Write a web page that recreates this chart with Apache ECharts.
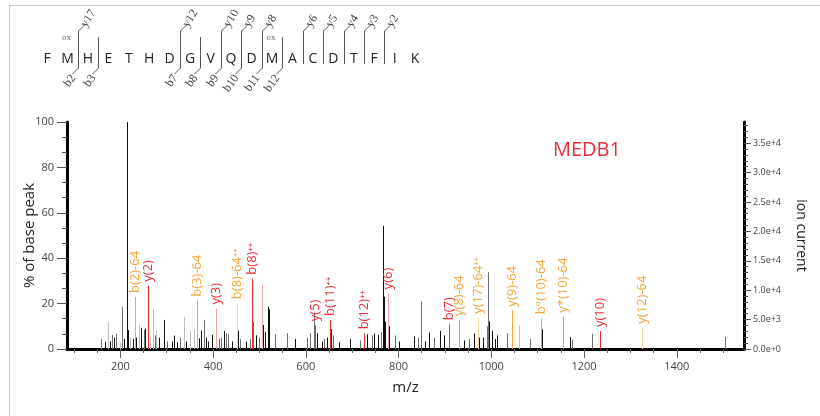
<!DOCTYPE html>
<html>
<head>
<meta charset="utf-8">
<script src="https://cdn.jsdelivr.net/npm/echarts@6/dist/echarts.min.js"></script>
<style>
  html, body { margin: 0; padding: 0; background: #fff; }
  #chart { width: 820px; height: 416px; }
</style>
</head>
<body>
<div id="chart"></div>
<script>
// peptide sequence and fragment cleavage marks (index = residue before the cut)
var sequence = ['F','M','H','E','T','H','D','G','V','Q','D','M','A','C','D','T','F','I','K'];
var oxidized = [1, 11];
var yIons = [[1,'y17'],[6,'y12'],[8,'y10'],[9,'y9'],[10,'y8'],[12,'y6'],[13,'y5'],[14,'y4'],[15,'y3'],[16,'y2']];
var bIons = [[1,'b2'],[2,'b3'],[6,'b7'],[7,'b8'],[8,'b9'],[9,'b10'],[10,'b11'],[11,'b12']];

// axis ticks
var xTicks = [100,150,200,250,300,350,400,450,500,550,600,650,700,750,800,850,900,950,1000,1050,1100,1150,1200,1250,1300,1350,1400,1450,1500];
var xLabels = [200,400,600,800,1000,1200,1400];
var ionLabels = [0,5000,10000,15000,20000,25000,30000,35000];
var ionTicks = [];
for (var k = 0; k <= 38000; k += 1000) ionTicks.push(k);

// unlabelled peaks [m/z, % of base peak]
var blackPeaks = [[168,3.2],[178,3.4],[187,5],[209,4.4],[214,100],[216,8.4],[226.5,4.5],[234,5],[244.5,9.3],[254,9],
  [282.6,5],[294.8,12.8],[311,3.3],[314.7,5.9],[322,3],[341.4,3.3],[370,4.7],[374,8],[384.6,5],[390,3.3],[397.6,6.3],
  [424,8],[440.7,3.3],[454,8],[470.7,3.3],[492,6],[507.5,10.6],[511,7.5],[517.4,18.6],[521,17.5],[577,4.4],[624,7],
  [634.7,3.3],[645.5,5],[654.7,8.7],[672.6,3],[695.7,4.4],[731.7,6.5],[748,6.8],[756.7,6.2],[766,54.3],[768,23],
  [771,12],[779.7,10],[800,3.3],[834,5.5],[857,3.3],[866,7.3],[889.7,8],[899,6],[931,4.4],[942,3.8],[963,6.8],[974,5],
  [981.4,5],[995.8,12.2],[1001,8],[1008,4.4],[1012,6],[1045.5,12],[1108.8,8.7],[1155,7.5],[1169.8,5.3]];
var greyPeaks = [[159,4.4],[183,6.2],[191,6.7],[203.6,18.6],[250,8.4],[274,6],[300.6,3.3],[329,5],[379.5,12.8],
  [411.9,4.4],[417.7,5],[427.8,7],[432,6.5],[457.9,4.4],[480,4.4],[487,12],[498,5],[534,6.5],[559,7],[602,5],[609.5,7],
  [617,16],[640,4.4],[657.6,6],[717,3.8],[743.8,6],[761.8,7.5],[792.7,6],[843,5],[848.5,21],[876.7,5],[953,4.4],
  [990,10],[993.7,33.8],[1033,7],[1083.6,4.4],[1173,4],[1217.8,6.7],[1504,5.3]];
var lightPeaks = [[173.5,12],[200,3],[221.5,5],[239.5,10.5],[264.5,5],[269.5,17.8],[277.6,8],[336.4,14.2],[350.9,8],[357.9,8.5]];
var pinkPeaks = [[506,28.8],[1060.6,10.3]];

// matched fragment ions [m/z, %, label]
var redIons = [[260,27.9,'y(2)'],[484,31,'b(8)⁺⁺'],[620,10.5,'y(5)'],[652.6,12.8,'b(11)⁺⁺'],[726.5,6.9,'b(12)⁺⁺'],[909,10.9,'b(7)'],[1234.5,7.9,'y(10)']];
var redLightIons = [[406,17.8,'y(3)'],[777,24.5,'y(6)']];
var orangeIons = [[231,22.9,'b(2)-64'],[365,21.3,'b(3)-64'],[930.6,12.8,'y(8)-64'],[1045.5,16.9,'y(9)-64'],[1108,13.5,'b°(10)-64'],[1154.7,14.2,'y*(10)-64']];
var orangeLightIons = [[452,20.2,'b(8)-64⁺⁺'],[971,13.8,'y(17)-64⁺⁺'],[1325,9.4,'y(12)-64']];

var RED = '#ee2d35', ORANGE = '#f8a33a';

function sticks(data, color, labelColor) {
    return {
        type: 'custom',
        data: data.map(function (d) { return [d[0], d[1]]; }),
        encode: { x: 0, y: 1 },
        renderItem: function (params, api) {
            var top = api.coord([api.value(0), api.value(1)]);
            var base = api.coord([api.value(0), 0]);
            var x = Math.round(top[0]) + 0.5;
            var kids = [{
                type: 'line',
                shape: { x1: x, y1: top[1], x2: x, y2: base[1] },
                style: { stroke: color, lineWidth: 1 }
            }];
            if (labelColor) {
                kids.push({
                    type: 'text', x: x, y: top[1] - 4, rotation: Math.PI / 2, z2: 10,
                    style: { text: data[params.dataIndex][2], fill: labelColor, font: '13px "Open Sans", sans-serif', align: 'left', verticalAlign: 'middle' }
                });
            }
            return { type: 'group', children: kids };
        }
    };
}

// sequence header drawn with graphic elements
var seqX0 = 47, seqStep = 20.45, seqY = 59;
var graphics = [
    { type: 'line', shape: { x1: 9, y1: 5.5, x2: 820, y2: 5.5 }, style: { stroke: '#c8c8c8', lineWidth: 1 } },
    { type: 'line', shape: { x1: 9.5, y1: 5, x2: 9.5, y2: 416 }, style: { stroke: '#c8c8c8', lineWidth: 1 } }
];
sequence.forEach(function (aa, i) {
    graphics.push({ type: 'text', x: seqX0 + i * seqStep, y: seqY,
        style: { text: aa, fill: '#222', font: '14px "Open Sans", sans-serif', align: 'center', verticalAlign: 'middle' } });
});
oxidized.forEach(function (i) {
    graphics.push({ type: 'text', x: seqX0 + i * seqStep - 1, y: 38,
        style: { text: 'ox', fill: '#666', font: '9px "Liberation Serif", serif', align: 'center', verticalAlign: 'middle' } });
});
var cuts = {};
yIons.forEach(function (c) { cuts[c[0]] = cuts[c[0]] || {}; cuts[c[0]].y = c[1]; });
bIons.forEach(function (c) { cuts[c[0]] = cuts[c[0]] || {}; cuts[c[0]].b = c[1]; });
Object.keys(cuts).forEach(function (key) {
    var c = cuts[key];
    var mx = Math.round(seqX0 + (+key + 0.5) * seqStep) + 0.5;
    var y1 = c.y ? 31 : 37, y2 = c.b ? 68 : 64;
    graphics.push({ type: 'line', shape: { x1: mx, y1: y1, x2: mx, y2: y2 }, style: { stroke: '#555', lineWidth: 1 } });
    if (c.y) {
        graphics.push({ type: 'line', shape: { x1: mx, y1: 31, x2: mx + 6, y2: 25 }, style: { stroke: '#555', lineWidth: 1 } });
        graphics.push({ type: 'text', x: mx + 5, y: 26, rotation: 1.0,
            style: { text: c.y, fill: '#444', font: '12px "Liberation Serif", serif', align: 'left', verticalAlign: 'middle' } });
    }
    if (c.b) {
        graphics.push({ type: 'line', shape: { x1: mx, y1: 68, x2: mx - 6, y2: 74 }, style: { stroke: '#555', lineWidth: 1 } });
        graphics.push({ type: 'text', x: mx - 5, y: 76, rotation: 0.95,
            style: { text: c.b, fill: '#444', font: '12px "Liberation Serif", serif', align: 'right', verticalAlign: 'middle' } });
    }
});

var chart = echarts.init(document.getElementById('chart'));
var axisLine = { show: true, lineStyle: { color: '#000', width: 3 } };
var option = {
    animation: false,
    title: { text: 'MEDB1', left: 548, top: 135, textStyle: { color: RED, fontSize: 20, fontWeight: 'normal', fontFamily: 'Open Sans' } },
    grid: { left: 67, right: 76, top: 122, bottom: 67 },
    graphic: graphics,
    xAxis: [{
        type: 'value', min: 85, max: 1545, position: 'bottom',
        axisLine: axisLine,
        axisTick: { customValues: xTicks, length: 4, lineStyle: { color: '#666' } },
        axisLabel: { customValues: xLabels, color: '#444', fontSize: 11, margin: 12, fontFamily: 'Open Sans',
            formatter: function (v) { return String(v); } },
        splitLine: { show: false },
        name: 'm/z', nameLocation: 'middle', nameGap: 31,
        nameTextStyle: { color: '#222', fontSize: 15, fontFamily: 'Open Sans' }
    }, {
        type: 'value', min: 85, max: 1545, position: 'bottom',
        axisLine: { show: false },
        axisTick: { customValues: xLabels, length: 9, lineStyle: { color: '#666' } },
        axisLabel: { show: false }, splitLine: { show: false }
    }],
    yAxis: [{
        type: 'value', min: 0, max: 100, interval: 20, position: 'left',
        axisLine: axisLine,
        axisTick: { show: true, length: 10, lineStyle: { color: '#555' } },
        minorTick: { show: true, splitNumber: 3, length: 5, lineStyle: { color: '#555' } },
        axisLabel: { color: '#444', fontSize: 11, margin: 13, fontFamily: 'Open Sans' },
        splitLine: { show: false },
        name: '% of base peak', nameLocation: 'middle', nameGap: 30, nameMoveOverlap: false,
        nameTextStyle: { color: '#222', fontSize: 15, fontFamily: 'Open Sans' }
    }, {
        type: 'value', min: 0, max: 38600, position: 'right',
        axisLine: axisLine,
        axisTick: { show: true, customValues: ionTicks, length: 4, lineStyle: { color: '#555' } },
        axisLabel: { customValues: ionLabels, color: '#444', fontSize: 9, margin: 9, fontFamily: 'Open Sans',
            formatter: function (v) { return v.toExponential(1); } },
        splitLine: { show: false },
        name: 'ion current', nameLocation: 'middle', nameGap: 50, nameRotate: -90,
        nameTextStyle: { color: '#222', fontSize: 14, fontFamily: 'Open Sans' }
    }, {
        type: 'value', min: 0, max: 38600, position: 'right',
        axisLine: { show: false },
        axisTick: { show: true, customValues: ionLabels, length: 7, lineStyle: { color: '#555' } },
        axisLabel: { show: false }, splitLine: { show: false }
    }],
    series: [
        sticks(lightPeaks, '#bdbdbd'),
        sticks(greyPeaks, '#6e6e6e'),
        sticks(blackPeaks, '#111'),
        sticks(pinkPeaks, '#f6a9ae'),
        sticks(orangeLightIons, '#fbd7a6', ORANGE),
        sticks(orangeIons, ORANGE, ORANGE),
        sticks(redLightIons, '#f6a0a6', RED),
        sticks(redIons, RED, RED)
    ]
};
chart.setOption(option);
</script>
</body>
</html>
